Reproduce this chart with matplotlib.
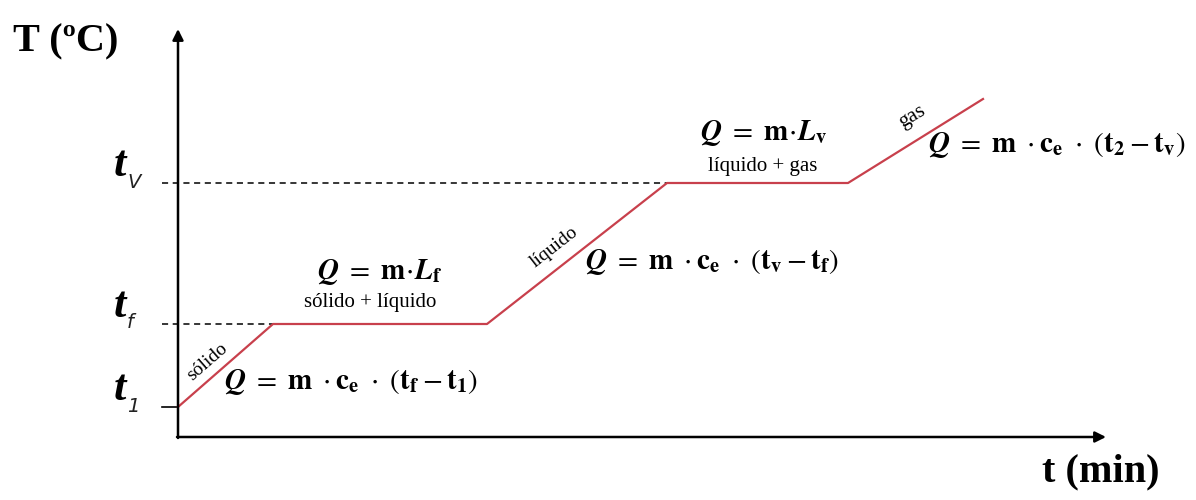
import matplotlib.pyplot as plt

plt.rcParams["mathtext.fontset"] = "stix"
plt.rcParams["font.family"] = "Liberation Serif"

# heating curve (schematic units: x = time, y = temperature)
time = [0, 95, 309, 489, 670, 805]
temp = [30, 113, 113, 254, 254, 338]
t_levels = [30, 113, 254]          # t1, tf, tv
t_names = ["1", "f", "V"]

fig = plt.figure(figsize=(11.96, 5), dpi=100)
ax = fig.add_axes([0, 0, 1, 1])
ax.set_xlim(-178, 1018)
ax.set_ylim(-63, 437)
ax.axis("off")

# axes with arrows
ax.annotate("", xy=(0, 408), xytext=(0, -1),
            arrowprops=dict(arrowstyle="-|>", color="black", lw=1.8,
                            mutation_scale=16, shrinkA=0, shrinkB=0))
ax.annotate("", xy=(928, 0), xytext=(-1, 0),
            arrowprops=dict(arrowstyle="-|>", color="black", lw=1.8,
                            mutation_scale=16, shrinkA=0, shrinkB=0))

# guide lines to the plateaus
ax.plot([-16, 0], [t_levels[0], t_levels[0]], color="black", lw=1.2)
ax.plot([-16, time[1]], [temp[1], temp[1]], color="black", lw=1.1, ls=(0, (4, 3)))
ax.plot([-16, time[3]], [temp[3], temp[3]], color="black", lw=1.1, ls=(0, (4, 3)))

ax.plot(time, temp, color="#c8404c", lw=1.6)

# axis titles
ax.text(-165, 395, "T (ºC)", fontsize=29, fontweight="bold", va="center", ha="left")
ax.text(923, -35, "t (min)", fontsize=29, fontweight="bold", va="center", ha="center")

# temperature labels
for lev, nm in zip(t_levels, t_names):
    ax.text(-52, lev + 18, "t", fontsize=32, fontweight="bold", fontstyle="italic",
            ha="right", va="center")
    ax.text(-51, lev + 1, nm, fontsize=14, fontstyle="italic",
            family="DejaVu Sans", ha="left", va="center", color="#222222")

fs = 21
ax.text(202, 165, r"$\mathbfit{Q}\ =\ \mathbf{m}\!\cdot\!\mathbfit{L}_{\mathbf{f}}$",
        fontsize=fs, ha="center", va="center")
ax.text(192, 135, "sólido + líquido", fontsize=15, ha="center", va="center")
ax.text(173, 55, r"$\mathbfit{Q}\ =\ \mathbf{m}\ \cdot\mathbf{c}_{\mathbf{e}}\ \cdot\ (\mathbf{t}_{\mathbf{f}} - \mathbf{t}_{\mathbf{1}})$",
        fontsize=fs, ha="center", va="center")
ax.text(534, 175, r"$\mathbfit{Q}\ =\ \mathbf{m}\ \cdot\mathbf{c}_{\mathbf{e}}\ \cdot\ (\mathbf{t}_{\mathbf{v}} - \mathbf{t}_{\mathbf{f}})$",
        fontsize=fs, ha="center", va="center")
ax.text(586, 304, r"$\mathbfit{Q}\ =\ \mathbf{m}\!\cdot\!\mathbfit{L}_{\mathbf{v}}$",
        fontsize=fs, ha="center", va="center")
ax.text(585, 270, "líquido + gas", fontsize=15, ha="center", va="center")
ax.text(879, 292, r"$\mathbfit{Q}\ =\ \mathbf{m}\ \cdot\mathbf{c}_{\mathbf{e}}\ \cdot\ (\mathbf{t}_{\mathbf{2}} - \mathbf{t}_{\mathbf{v}})$",
        fontsize=fs, ha="center", va="center")

# phase names along the slopes
ax.text(29, 75, "sólido", fontsize=14, rotation=41, ha="center", va="center")
ax.text(376, 190, "líquido", fontsize=14, rotation=38, ha="center", va="center")
ax.text(734, 320, "gas", fontsize=15, rotation=31, ha="center", va="center")

fig.savefig("out.png", dpi=100)
